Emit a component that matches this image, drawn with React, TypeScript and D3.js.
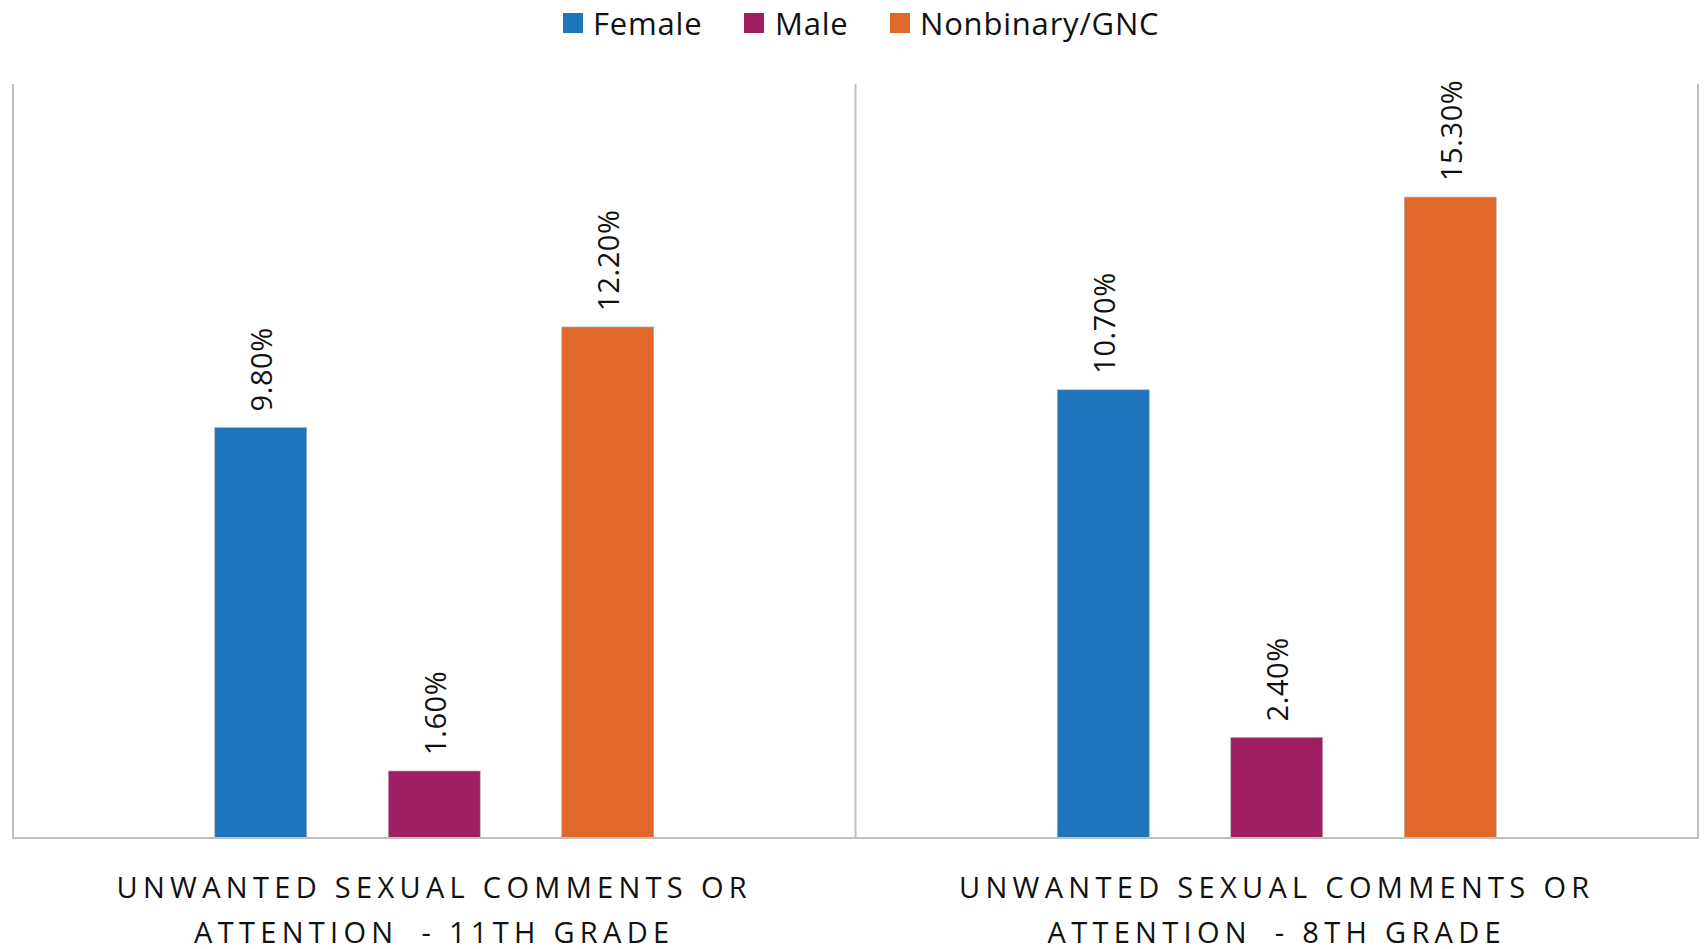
import React from "react";
import * as d3 from "d3";

const categories = ["UNWANTED SEXUAL COMMENTS OR|ATTENTION\u2009 - 11TH GRADE", "UNWANTED SEXUAL COMMENTS OR|ATTENTION\u2009 - 8TH GRADE"];
const seriesNames = ["Female", "Male", "Nonbinary/GNC"];
const seriesColors = ["#1F75BC", "#A01F62", "#E0692A"];
const female = [9.8, 10.7];
const male = [1.6, 2.4];
const nonbinary = [12.2, 15.3];
const seriesValues = [female, male, nonbinary];

const W = 1706;
const H = 949;
const left = 13;
const right = 1698;
const top = 84;
const bottom = 838;
const font = "'Open Sans', sans-serif";

export default function App() {
  const x0 = d3.scaleBand<number>().domain(d3.range(categories.length)).range([left, right]).padding(0);
  const x1 = d3.scaleBand<number>().domain(d3.range(seriesNames.length)).range([0, x0.bandwidth()]).paddingInner(0.47).paddingOuter(1.163);
  const y = d3.scaleLinear().domain([0, 18]).range([bottom, top]);

  const legendItems = [
    { sq: 563, tx: 593 },
    { sq: 744, tx: 775 },
    { sq: 890, tx: 920 },
  ];

  return (
    <svg width={W} height={H} style={{ position: "absolute", left: 0, top: 0, background: "#fff" }}>
      {legendItems.map((li, i) => (
        <g key={i}>
          <rect x={li.sq} y={13} width={20} height={20} fill={seriesColors[i]} />
          <text x={li.tx} y={23} dominantBaseline="central" fontFamily={font} fontSize={31} letterSpacing={0.8} fill="#111">
            {seriesNames[i]}
          </text>
        </g>
      ))}
      {categories.map((c, ci) => {
        const bx = x0(ci)!;
        const cx = bx + x0.bandwidth() / 2;
        const lines = c.split("|");
        return (
          <g key={ci}>
            {seriesValues.map((vals, si) => {
              const v = vals[ci];
              const xb = bx + x1(si)!;
              const bw = x1.bandwidth();
              const yt = y(v);
              return (
                <g key={si}>
                  <rect x={xb} y={yt} width={bw} height={bottom - yt} fill={seriesColors[si]} stroke="#b0b0b0" strokeWidth={0.6} />
                  <text
                    transform={`translate(${xb + bw / 2},${yt - 16}) rotate(-90)`}
                    dominantBaseline="central"
                    textAnchor="start"
                    fontFamily={font}
                    fontSize={29}
                    letterSpacing={0.6}
                    fill="#111"
                  >
                    {v.toFixed(2) + "%"}
                  </text>
                </g>
              );
            })}
            {lines.map((l, li) => (
              <text
                key={li}
                x={cx}
                y={886 + li * 45}
                textAnchor="middle"
                dominantBaseline="central"
                fontFamily={font}
                fontSize={29}
                letterSpacing={5.3}
                fill="#111"
                style={{ whiteSpace: "pre" }}
              >
                {l}
              </text>
            ))}
          </g>
        );
      })}
      {d3.range(categories.length + 1).map((i) => {
        const xx = i < categories.length ? x0(i)! : right;
        return <line key={i} x1={xx} x2={xx} y1={top} y2={bottom} stroke="#BFBFBF" strokeWidth={2} />;
      })}
      <line x1={left - 1} x2={right + 1} y1={bottom} y2={bottom} stroke="#BFBFBF" strokeWidth={2} />
    </svg>
  );
}
